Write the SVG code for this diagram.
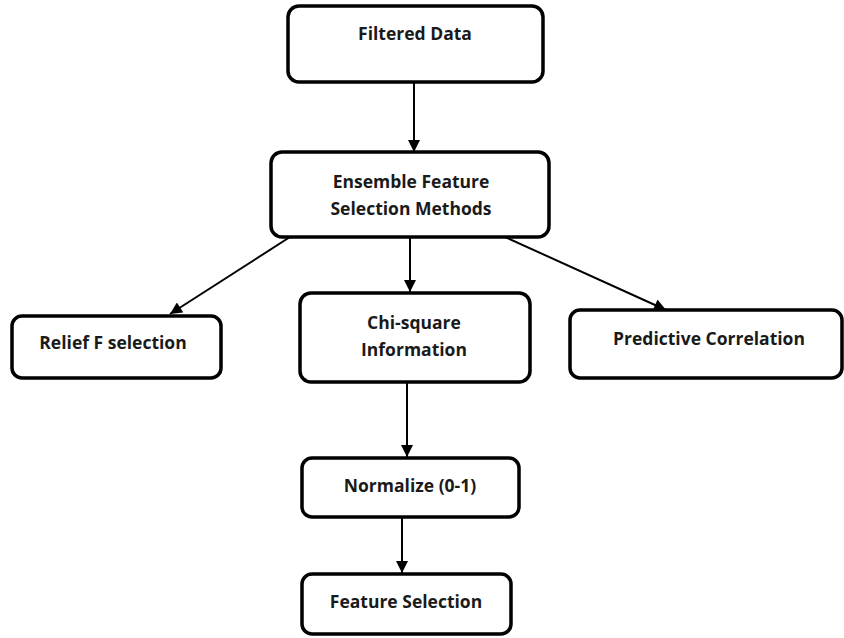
<svg xmlns="http://www.w3.org/2000/svg" width="844" height="638" viewBox="0 0 844 638">
<defs>
<style>
.box{fill:#fff;stroke:#000;stroke-width:3.5}
.lbl{font-family:"Open Sans","Liberation Sans",sans-serif;font-weight:bold;font-size:17.5px;fill:#1a1a1a;text-anchor:middle}
.con{stroke:#000;stroke-width:2;fill:none;marker-end:url(#ah)}
</style>
<marker id="ah" viewBox="0 0 10 10" refX="10" refY="5" markerWidth="6.5" markerHeight="6" markerUnits="strokeWidth" orient="auto">
<path d="M0,0 L10,5 L0,10 Z" fill="#000"/>
</marker>
</defs>
<rect width="844" height="638" fill="#fff"/>
<g id="connectors">
<line class="con" x1="414" y1="82" x2="414" y2="152"/>
<line class="con" x1="290" y1="237" x2="170" y2="314"/>
<line class="con" x1="410" y1="237" x2="410" y2="292"/>
<line class="con" x1="505" y1="237" x2="666" y2="310"/>
<line class="con" x1="407" y1="382" x2="407" y2="457"/>
<line class="con" x1="402" y1="517" x2="402" y2="573"/>
</g>
<g id="filtered-data">
<rect class="box" x="288" y="6" width="255" height="76" rx="11"/>
<text class="lbl" x="415" y="40">Filtered Data</text>
</g>
<g id="ensemble">
<rect class="box" x="271" y="152" width="278" height="85" rx="11"/>
<text class="lbl" x="411" y="188">Ensemble Feature</text>
<text class="lbl" x="411" y="215">Selection Methods</text>
</g>
<g id="relief">
<rect class="box" x="12" y="316" width="209" height="62" rx="10"/>
<text class="lbl" x="113" y="349">Relief F selection</text>
</g>
<g id="chi-square">
<rect class="box" x="300" y="293" width="230" height="89" rx="11"/>
<text class="lbl" x="414" y="329">Chi-square</text>
<text class="lbl" x="414" y="356">Information</text>
</g>
<g id="predictive">
<rect class="box" x="570" y="310" width="272" height="68" rx="10"/>
<text class="lbl" x="709" y="345">Predictive Correlation</text>
</g>
<g id="normalize">
<rect class="box" x="302" y="458" width="217" height="59" rx="10"/>
<text class="lbl" x="410" y="492">Normalize (0-1)</text>
</g>
<g id="feature-selection">
<rect class="box" x="302" y="574" width="209" height="60" rx="10"/>
<text class="lbl" x="406" y="608">Feature Selection</text>
</g>
</svg>
